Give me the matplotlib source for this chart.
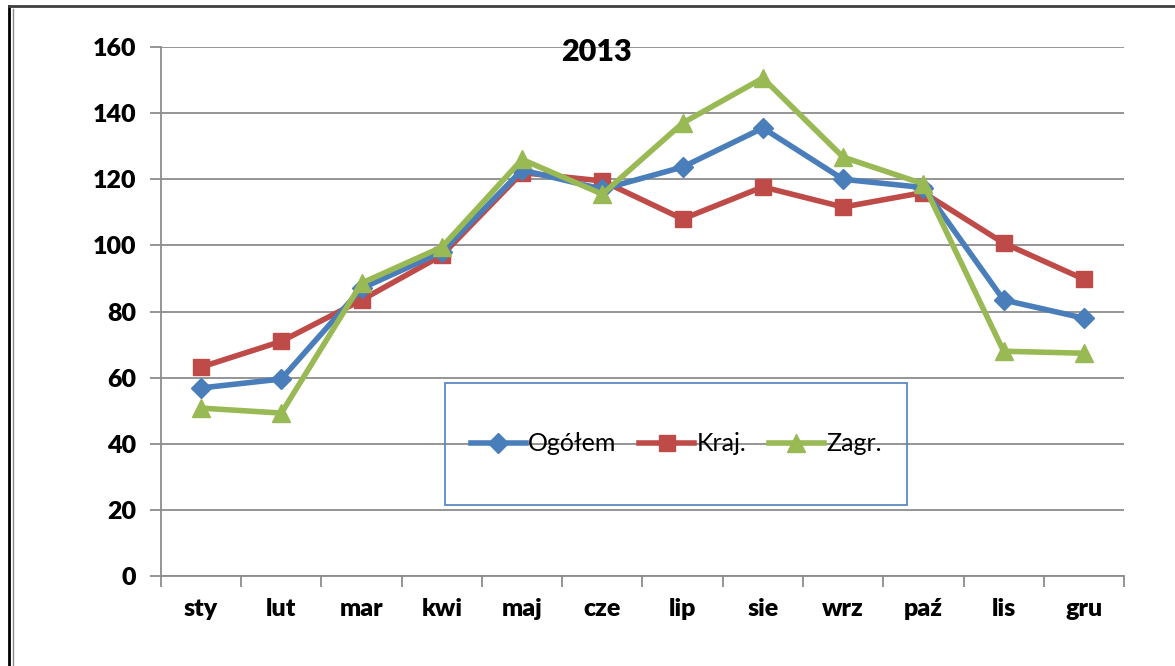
import matplotlib.pyplot as plt
from matplotlib.lines import Line2D
from matplotlib.patches import Rectangle

months = ['sty', 'lut', 'mar', 'kwi', 'maj', 'cze', 'lip', 'sie', 'wrz', 'paź', 'lis', 'gru']
ogolem = [56.9, 59.6, 87.0, 98.0, 122.8, 117.0, 123.7, 135.5, 120.0, 117.5, 83.5, 78.0]
kraj = [63.2, 71.0, 83.5, 97.0, 122.0, 119.5, 108.0, 117.7, 111.6, 116.0, 100.7, 89.8]
zagr = [50.8, 49.3, 88.6, 99.5, 126.0, 115.5, 137.0, 150.6, 126.7, 118.6, 68.0, 67.4]

plt.rcParams['font.family'] = ['Lato', 'DejaVu Sans']

fig = plt.figure(figsize=(11.75, 6.66), dpi=100)
ax = fig.add_axes([0.137, 0.135, 0.8196, 0.7944])

x = list(range(len(months)))
ax.plot(x, ogolem, color='#4A7EBB', lw=4, marker='D', ms=10, label='Ogółem', zorder=5)
ax.plot(x, kraj, color='#BE4B48', lw=4, marker='s', ms=12, label='Kraj.', zorder=4)
ax.plot(x, zagr, color='#98B954', lw=4, marker='^', ms=13, label='Zagr.', zorder=6)

ax.set_xlim(-0.5, 11.5)
ax.set_ylim(0, 160)
ax.set_yticks(range(0, 161, 20))
ax.yaxis.grid(True, color='#8C8C8C', lw=1.3)
ax.set_axisbelow(True)

ax.set_xticks(x)
ax.set_xticklabels(months, fontsize=18, fontweight='heavy')
ax.set_xticks([i - 0.5 for i in range(13)], minor=True)
ax.tick_params(axis='x', which='major', length=0, pad=16)
ax.tick_params(axis='x', which='minor', length=8, color='#8C8C8C', width=1.3, direction='out')
ax.tick_params(axis='y', length=8, color='#8C8C8C', width=1.3, labelsize=18, pad=10)
for lbl in ax.get_yticklabels():
    lbl.set_fontweight('heavy')

for s in ['top', 'right']:
    ax.spines[s].set_visible(False)
ax.spines['left'].set_color('#8C8C8C')
ax.spines['bottom'].set_color('#8C8C8C')
ax.spines['left'].set_linewidth(1.3)
ax.spines['bottom'].set_linewidth(1.3)

ax.text(0.452, 0.99, '2013', transform=ax.transAxes, ha='center', va='center',
        fontsize=22, fontweight='heavy')

# legend box
ax.add_patch(Rectangle((0.295, 0.135), 0.48, 0.23, transform=ax.transAxes,
                       fill=False, edgecolor='#4F81BD', lw=1.2, zorder=7))
ax.legend(loc='center', bbox_to_anchor=(0.535, 0.25), ncol=3, frameon=False,
          fontsize=18, handlelength=2.2, handletextpad=0.1, columnspacing=0.9)

# outer frame
fig.add_artist(Line2D([9 / 1175, 9 / 1175], [0, 1 - 6 / 666], color='black', lw=2))
fig.add_artist(Line2D([13 / 1175, 13 / 1175], [0, 1 - 9 / 666], color='#8C8C8C', lw=1))
fig.add_artist(Line2D([9 / 1175, 1], [1 - 6 / 666, 1 - 6 / 666], color='#404040', lw=2))

fig.savefig('out.png', dpi=100)
